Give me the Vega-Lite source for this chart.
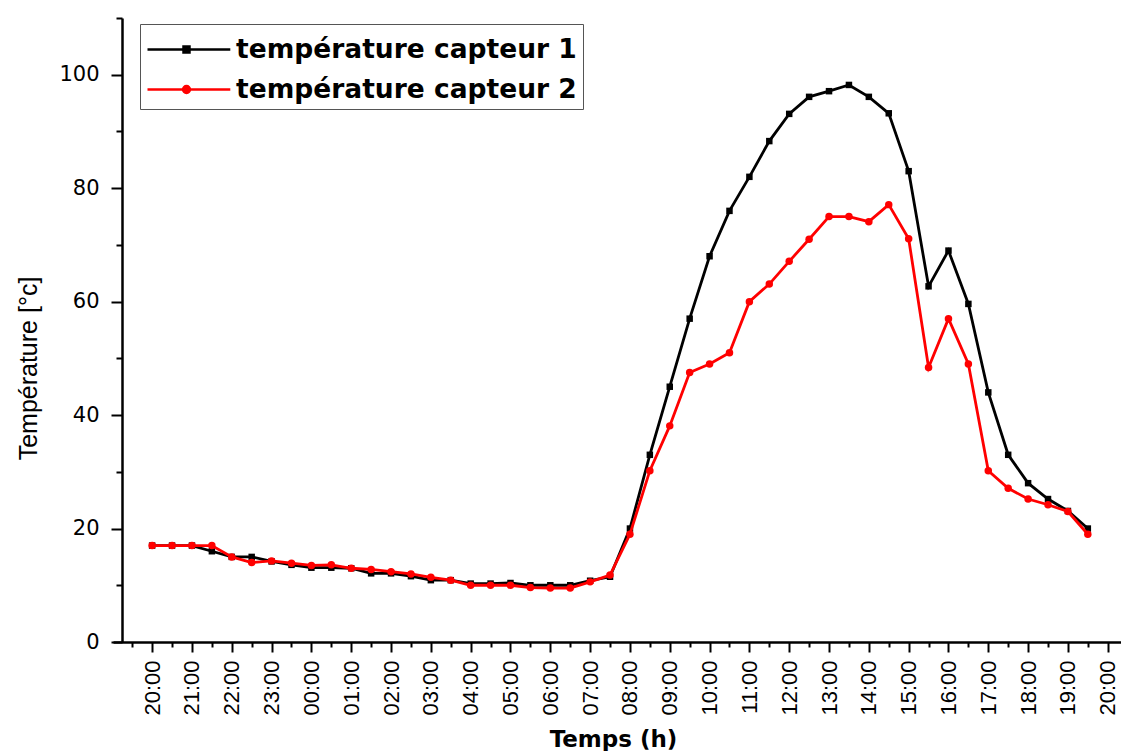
{
  "$schema": "https://vega.github.io/schema/vega-lite/v6.json",
  "width": 1008,
  "height": 624,
  "autosize": {"type": "none"},
  "padding": {"left": 113, "top": 18, "right": 0, "bottom": 109},
  "background": "white",
  "config": {
    "view": {"stroke": null},
    "axis": {"labelFont": "Liberation Sans", "titleFont": "Liberation Sans", "labelColor": "black", "titleColor": "black", "domainColor": "black", "tickColor": "black", "grid": false}
  },
  "layer": [
    {
      "data": {"values": [
        {"h": 0, "T": 17}, {"h": 0.5, "T": 17}, {"h": 1, "T": 17}, {"h": 1.5, "T": 16},
        {"h": 2, "T": 15}, {"h": 2.5, "T": 15}, {"h": 3, "T": 14.2}, {"h": 3.5, "T": 13.6},
        {"h": 4, "T": 13.1}, {"h": 4.5, "T": 13.1}, {"h": 5, "T": 13}, {"h": 5.5, "T": 12.1},
        {"h": 6, "T": 12.1}, {"h": 6.5, "T": 11.6}, {"h": 7, "T": 10.9}, {"h": 7.5, "T": 10.9},
        {"h": 8, "T": 10.3}, {"h": 8.5, "T": 10.3}, {"h": 9, "T": 10.4}, {"h": 9.5, "T": 10},
        {"h": 10, "T": 10}, {"h": 10.5, "T": 10}, {"h": 11, "T": 10.8}, {"h": 11.5, "T": 11.5},
        {"h": 12, "T": 20}, {"h": 12.5, "T": 33}, {"h": 13, "T": 45}, {"h": 13.5, "T": 57},
        {"h": 14, "T": 68}, {"h": 14.5, "T": 76}, {"h": 15, "T": 82}, {"h": 15.5, "T": 88.3},
        {"h": 16, "T": 93.1}, {"h": 16.5, "T": 96.1}, {"h": 17, "T": 97.1}, {"h": 17.5, "T": 98.2},
        {"h": 18, "T": 96.1}, {"h": 18.5, "T": 93.2}, {"h": 19, "T": 83}, {"h": 19.5, "T": 62.7},
        {"h": 20, "T": 69}, {"h": 20.5, "T": 59.6}, {"h": 21, "T": 44}, {"h": 21.5, "T": 33},
        {"h": 22, "T": 28}, {"h": 22.5, "T": 25.2}, {"h": 23, "T": 23.1}, {"h": 23.5, "T": 20}
      ]},
      "mark": {"type": "line", "strokeWidth": 2.8, "point": {"shape": "square", "size": 42, "filled": true}},
      "encoding": {
        "x": {
          "field": "h", "type": "quantitative",
          "scale": {"domain": [-0.983, 24.333], "nice": false, "zero": false},
          "axis": {
            "title": "Temps (h)", "titleFont": "DejaVu Sans", "titleFontSize": 23, "titleFontWeight": "bold",
            "titleBaseline": "alphabetic", "titleY": 104, "titleX": 500,
            "values": [0, 1, 2, 3, 4, 5, 6, 7, 8, 9, 10, 11, 12, 13, 14, 15, 16, 17, 18, 19, 20, 21, 22, 23, 24],
            "labelExpr": "(((datum.value + 20) % 24) < 10 ? '0' : '') + ((datum.value + 20) % 24) + ':00'",
            "labelAngle": 270, "labelFontSize": 22, "labelPadding": 8,
            "labelOverlap": false, "labelFlush": false, "labelBound": false,
            "tickSize": 10, "tickWidth": 2, "domainWidth": 2.5
          }
        },
        "y": {
          "field": "T", "type": "quantitative",
          "scale": {"domain": [0, 110], "nice": false},
          "axis": {
            "title": "Température [°c]", "titleFontSize": 25, "titleFontWeight": "normal",
            "titleBaseline": "alphabetic", "titleX": -86, "titleY": 350, "titleAngle": 270,
            "values": [0, 20, 40, 60, 80, 100], "labelFont": "DejaVu Sans", "labelFontSize": 21, "labelPadding": 12,
            "tickSize": 11, "tickWidth": 2, "domainWidth": 2.5, "offset": -9
          }
        },
        "color": {
          "datum": "température capteur 1", "type": "nominal",
          "scale": {"domain": ["température capteur 1", "température capteur 2"], "range": ["black", "#ff0000"]},
          "legend": {
            "orient": "none", "legendX": 27, "legendY": 6, "title": null,
            "strokeColor": "#555", "padding": 6, "fillColor": "white",
            "labelFont": "DejaVu Sans", "labelFontWeight": "bold", "labelFontSize": 26.5, "labelColor": "black",
            "labelOffset": 51, "rowPadding": 7, "labelLimit": 0,
            "symbolType": "M-1,0H3.6", "symbolSize": 1296, "symbolStrokeWidth": 2.5,
            "encode": {"symbols": {"update": {
              "shape": {"signal": "datum.index === 0 ? 'M-1,0H3.6M1,-0.167H1.333V0.167H1Z' : 'M-1,0H3.6M1.357,0A0.19,0.19,0,1,1,0.977,0A0.19,0.19,0,1,1,1.357,0Z'"},
              "fill": {"signal": "datum.index === 0 ? 'black' : '#ff0000'"}
            }}}
          }
        }
      }
    },
    {
      "data": {"values": [
        {"h": 0, "T": 17}, {"h": 0.5, "T": 17}, {"h": 1, "T": 17}, {"h": 1.5, "T": 17},
        {"h": 2, "T": 15}, {"h": 2.5, "T": 14}, {"h": 3, "T": 14.3}, {"h": 3.5, "T": 13.9},
        {"h": 4, "T": 13.5}, {"h": 4.5, "T": 13.6}, {"h": 5, "T": 13}, {"h": 5.5, "T": 12.8},
        {"h": 6, "T": 12.4}, {"h": 6.5, "T": 12}, {"h": 7, "T": 11.4}, {"h": 7.5, "T": 10.9},
        {"h": 8, "T": 10}, {"h": 8.5, "T": 10}, {"h": 9, "T": 10}, {"h": 9.5, "T": 9.6},
        {"h": 10, "T": 9.5}, {"h": 10.5, "T": 9.5}, {"h": 11, "T": 10.6}, {"h": 11.5, "T": 11.8},
        {"h": 12, "T": 19}, {"h": 12.5, "T": 30.2}, {"h": 13, "T": 38.1}, {"h": 13.5, "T": 47.5},
        {"h": 14, "T": 49}, {"h": 14.5, "T": 51}, {"h": 15, "T": 60}, {"h": 15.5, "T": 63.1},
        {"h": 16, "T": 67.1}, {"h": 16.5, "T": 71}, {"h": 17, "T": 75}, {"h": 17.5, "T": 75},
        {"h": 18, "T": 74.1}, {"h": 18.5, "T": 77.1}, {"h": 19, "T": 71.1}, {"h": 19.5, "T": 48.4},
        {"h": 20, "T": 57}, {"h": 20.5, "T": 49}, {"h": 21, "T": 30.2}, {"h": 21.5, "T": 27.1},
        {"h": 22, "T": 25.2}, {"h": 22.5, "T": 24.2}, {"h": 23, "T": 23}, {"h": 23.5, "T": 19}
      ]},
      "mark": {"type": "line", "strokeWidth": 2.8, "point": {"shape": "circle", "size": 56, "filled": true}},
      "encoding": {
        "x": {
          "field": "h", "type": "quantitative",
          "axis": {"title": null, "labels": false, "domain": false, "values": [-0.5, 0.5, 1.5, 2.5, 3.5, 4.5, 5.5, 6.5, 7.5, 8.5, 9.5, 10.5, 11.5, 12.5, 13.5, 14.5, 15.5, 16.5, 17.5, 18.5, 19.5, 20.5, 21.5, 22.5, 23.5], "tickSize": 5, "tickWidth": 2, "orient": "bottom"}
        },
        "y": {
          "field": "T", "type": "quantitative",
          "axis": {"title": null, "labels": false, "domain": false, "values": [10, 30, 50, 70, 90, 110], "tickSize": 6, "tickWidth": 2, "orient": "left", "offset": -9}
        },
        "color": {"datum": "température capteur 2", "type": "nominal"}
      }
    }
  ],
  "resolve": {"axis": {"x": "independent", "y": "independent"}}
}
